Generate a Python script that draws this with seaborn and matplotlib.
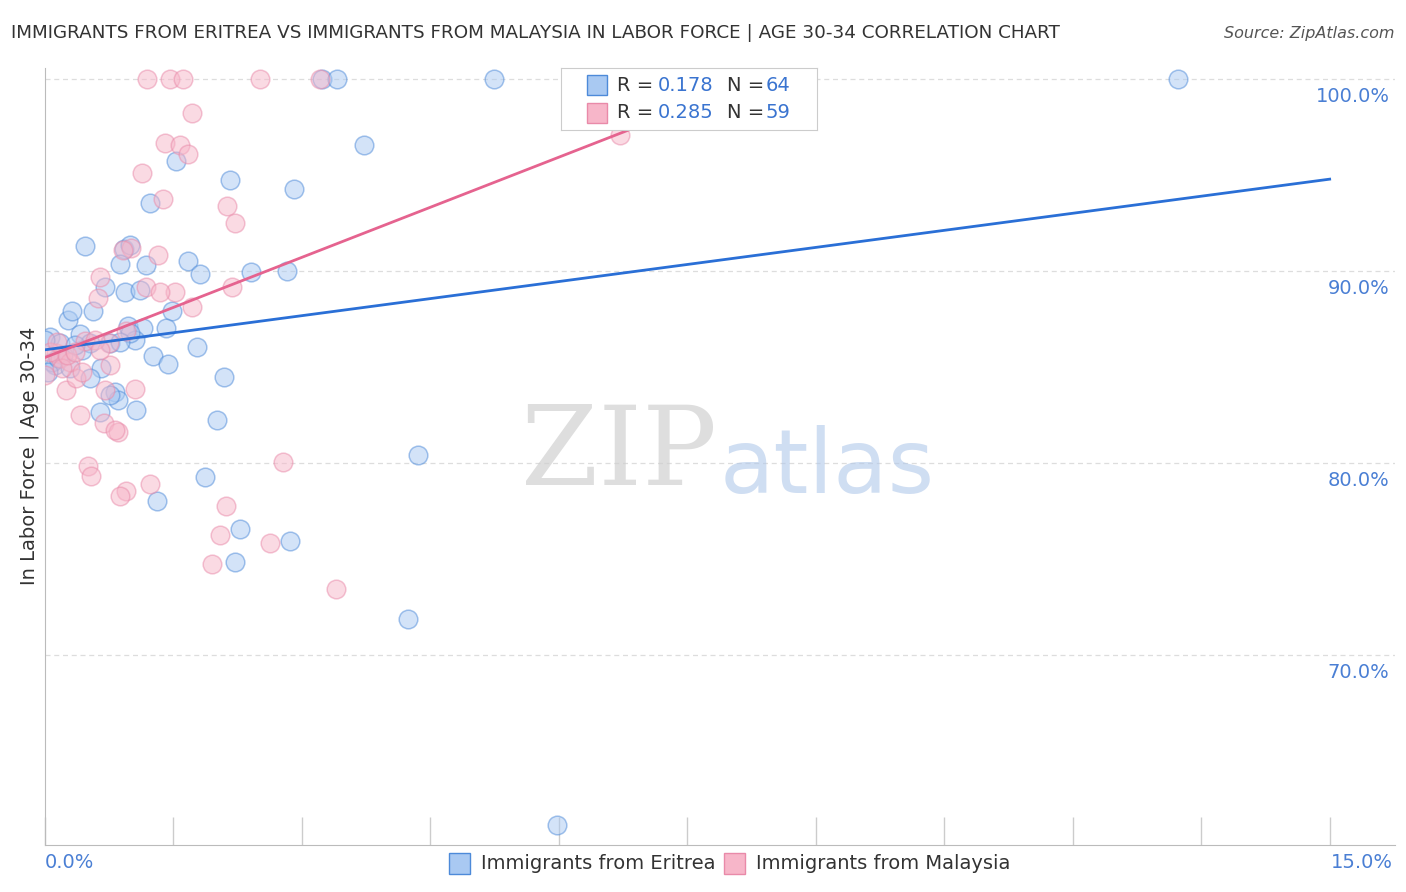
import matplotlib
matplotlib.use("Agg")
import matplotlib.pyplot as plt
import seaborn as sns
import numpy as np
import pandas as pd

eritrea_x = [5.24,13.23,3.24,3.41,3.72,1.53,2.91,2.16,1.23,0.47,0.92,0.99,0.88,1.18,1.67,1.81,2.40,2.82,0.70,0.93,1.11,0.27,0.32,0.56,1.48,0.97,1.14,1.41,0.41,0.06,0.18,0.53,1.05,1.77,0.76,0.43,1.26,1.44,0.65,0.12,0.53,2.09,0.82,0.85,0.64,1.06,2.01,4.36,1.87,1.31,2.28,2.86,2.22,4.24,5.98,0.08,0.04,0.21,0.76,0.35,0.15,0.99,0.0,0.29,0.88]
eritrea_y = [100,100,100,100,96.6,95.73,94.27,94.74,93.54,91.30,91.15,91.35,90.36,90.31,90.52,89.84,89.95,90.0,89.17,88.91,89.01,87.45,87.92,87.92,87.92,87.14,87.03,87.03,86.72,86.56,86.25,86.25,86.41,86.04,86.25,85.89,85.57,85.16,84.95,85.10,84.43,84.48,83.70,83.28,82.66,82.76,82.24,80.42,79.27,78.02,76.56,75.94,74.84,71.88,61.15,85.26,84.74,85.63,83.54,86.15,85.47,86.8,86.4,84.95,86.3]
malaysia_x = [1.19,1.46,1.61,2.51,3.21,1.72,1.40,1.58,1.67,1.13,1.38,2.12,2.22,1.32,1.00,0.64,0.62,1.52,1.18,1.72,2.18,0.95,0.75,0.47,0.58,0.25,0.41,0.70,0.36,0.13,0.18,0.29,0.06,0.20,1.05,0.69,0.85,0.82,0.50,0.54,0.95,0.88,1.23,2.78,2.11,2.04,1.95,2.63,3.40,6.71,0.91,0.26,0.0,0.14,0.76,0.43,1.34,0.35,0.64]
malaysia_y = [100,100,100,100,100,98.23,96.67,96.56,96.09,95.10,93.75,93.39,92.50,90.83,91.20,89.69,88.59,88.91,89.17,88.13,89.17,86.88,86.25,86.35,86.41,83.80,82.50,83.80,84.43,85.73,85.47,85.26,85.78,84.95,83.85,82.08,81.61,81.72,79.84,79.32,78.54,78.28,78.91,80.05,77.76,76.25,74.74,75.83,73.44,97.08,91.09,85.63,84.58,86.30,85.10,84.74,88.91,85.78,85.89]
# trend lines: (intercept, slope, x_end)
eritrea_fit = (85.9, 0.593, 15.0)
malaysia_fit = (85.5, 1.74, 8.09)

BLUE_F, BLUE_E, BLUE_L = "#a9c9f2", "#4d8ad9", "#2a6fd6"
PINK_F, PINK_E, PINK_L = "#f7b6c9", "#e98aa9", "#e5638f"

fig = plt.figure(figsize=(14.06, 8.92), dpi=100)
ax = fig.add_axes([0.032, 0.053, 0.96, 0.871])

df1 = pd.DataFrame({"x": eritrea_x, "y": eritrea_y})
df2 = pd.DataFrame({"x": malaysia_x, "y": malaysia_y})
sns.scatterplot(data=df1, x="x", y="y", ax=ax, s=180, color=BLUE_F, edgecolor=BLUE_E, linewidth=1.1, alpha=0.5, zorder=3)
sns.scatterplot(data=df2, x="x", y="y", ax=ax, s=180, color=PINK_F, edgecolor=PINK_E, linewidth=1.1, alpha=0.5, zorder=3)

for (b, m, xe), c in [(eritrea_fit, BLUE_L), (malaysia_fit, PINK_L)]:
    xs = np.array([0, xe])
    ax.plot(xs, b + m * xs, color=c, lw=2, zorder=4)

ax.set_xlim(0, 15.76)
ax.set_ylim(60.1, 100.6)
for yv in [100, 90, 80, 70]:
    ax.axhline(yv, color="#dddddd", ls=(0, (4, 3)), lw=0.9, zorder=1)
ax.set_yticks([])
for yv in [100, 90, 80, 70]:
    ax.text(15.7, yv - 0.9, f"{yv:.1f}%", ha="right", va="center", color="#4a7fd4", fontsize=14)
ax.set_xticks(np.arange(0, 15.01, 1.5))
ax.set_xticklabels([])
ax.tick_params(axis="x", direction="in", length=20, color="#cccccc", width=1)
for s in ["top", "right"]:
    ax.spines[s].set_visible(False)
ax.spines["left"].set_color("#bbbbbb")
ax.spines["bottom"].set_color("#bbbbbb")
ax.set_xlabel("")
ax.set_ylabel("In Labor Force | Age 30-34", fontsize=14, color="#333333", labelpad=4)
fig.text(0.032, 0.033, "0.0%", color="#4a7fd4", fontsize=14, ha="left", va="center")
fig.text(0.991, 0.033, "15.0%", color="#4a7fd4", fontsize=14, ha="right", va="center")

fig.text(0.008, 0.963, "IMMIGRANTS FROM ERITREA VS IMMIGRANTS FROM MALAYSIA IN LABOR FORCE | AGE 30-34 CORRELATION CHART",
         fontsize=13.2, color="#333333", ha="left", va="center")
fig.text(0.992, 0.963, "Source: ZipAtlas.com", fontsize=11.5, color="#555555", ha="right", va="center", style="italic")

fig.text(0.51, 0.49, "ZIP", fontsize=80, color="#d0d0d0", ha="right", va="center", family="DejaVu Serif", alpha=0.7)
fig.text(0.512, 0.475, "atlas", fontsize=64, color="#b0c8ea", ha="left", va="center", alpha=0.6)

# top legend box
lg = fig.add_axes([0.399, 0.854, 0.182, 0.07])
lg.set_xlim(0, 1); lg.set_ylim(0, 1)
lg.set_xticks([]); lg.set_yticks([])
for s in lg.spines.values():
    s.set_color("#cccccc")
for yy, fc, ec, r, n in [(0.72, BLUE_F, BLUE_E, "0.178", "64"), (0.28, PINK_F, PINK_E, "0.285", "59")]:
    lg.add_patch(plt.Rectangle((0.1, yy - 0.16), 0.08, 0.32, facecolor=fc, edgecolor=ec, lw=1))
    lg.text(0.22, yy, "R =", fontsize=14, color="#333333", va="center")
    lg.text(0.38, yy, r, fontsize=14, color="#3a74d0", va="center")
    lg.text(0.65, yy, "N =", fontsize=14, color="#333333", va="center")
    lg.text(0.80, yy, n, fontsize=14, color="#3a74d0", va="center")

# bottom legend
for xx, fc, ec, lab in [(0.319, BLUE_F, BLUE_E, "Immigrants from Eritrea"), (0.515, PINK_F, PINK_E, "Immigrants from Malaysia")]:
    fig.patches.append(plt.Rectangle((xx, 0.02), 0.015, 0.024, facecolor=fc, edgecolor=ec, lw=1, transform=fig.transFigure, figure=fig))
    fig.text(xx + 0.023, 0.032, lab, fontsize=14, color="#333333", va="center")

fig.savefig("out.png", dpi=100)
